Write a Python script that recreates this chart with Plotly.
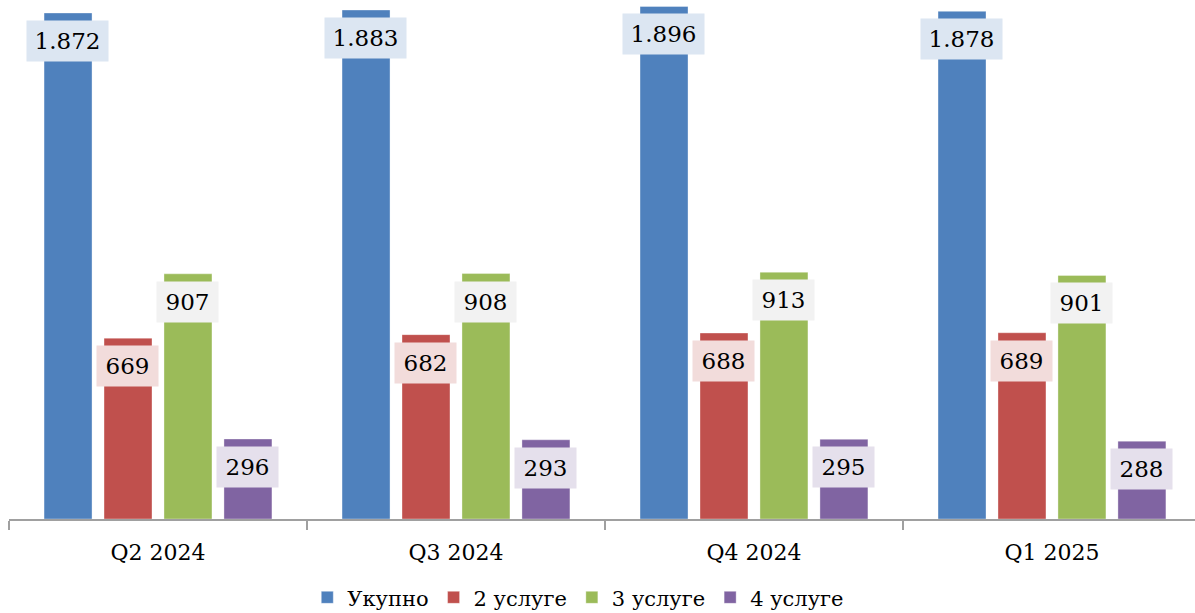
import plotly.graph_objects as go

categories = ["Q2 2024", "Q3 2024", "Q4 2024", "Q1 2025"]
series_names = ["Укупно", "2 услуге", "3 услуге", "4 услуге"]
ukupno = [1872, 1883, 1896, 1878]
usluge2 = [669, 682, 688, 689]
usluge3 = [907, 908, 913, 901]
usluge4 = [296, 293, 295, 288]

colors = ["#4f81bd", "#c0504d", "#9bbb59", "#8064a2"]
label_bg = ["#dce6f2", "#f2dcdb", "#f2f2f2", "#e5e0ec"]

FONT = "DejaVu Serif"

def fmt(v):
    return f"{v:,}".replace(",", ".")

fig = go.Figure()
all_series = [ukupno, usluge2, usluge3, usluge4]
for name, vals, col in zip(series_names, all_series, colors):
    fig.add_trace(go.Bar(
        name=name, x=categories, y=vals,
        marker=dict(color=col, line=dict(color="rgba(255,255,255,0.35)", width=1)),
        offsetgroup=name,
    ))

n = len(all_series)
for si, (vals, bg) in enumerate(zip(all_series, label_bg)):
    for ci, v in enumerate(vals):
        txt = fmt(v)
        w = 81 if len(txt) > 3 else 61
        fig.add_annotation(
            x=categories[ci], y=v, xref="x", yref="y",
            xshift=(si - (n - 1) / 2) * 60,
            yshift=-28,
            text=txt, showarrow=False,
            font=dict(family=FONT, size=23, color="#000000"),
            bgcolor=bg, borderpad=0, width=w, height=40,
            xanchor="center", yanchor="middle",
        )

fig.update_layout(
    width=1195, height=613,
    margin=dict(l=9, r=0, t=0, b=94, autoexpand=False),
    paper_bgcolor="white", plot_bgcolor="white",
    barmode="group", bargap=0.195, bargroupgap=0.2,
    font=dict(family=FONT, size=20, color="#000000"),
    showlegend=True,
    legend=dict(
        orientation="h", x=0.48, xanchor="center",
        yref="container", y=0.025, yanchor="middle",
        font=dict(family=FONT, size=21, color="#000000"),
        itemwidth=30, tracegroupgap=0,
    ),
)
fig.update_xaxes(
    type="category", range=[-0.5, 3.48],
    showline=True, linecolor="#a0a0a0", linewidth=2,
    ticks="outside", tickson="boundaries", ticklen=9, tickcolor="#a0a0a0", tickwidth=2,
    tickfont=dict(family=FONT, size=22, color="#000000"),
    ticklabelstandoff=13,
    showgrid=False, zeroline=False,
)
fig.update_yaxes(
    range=[0, 1920], visible=False, showgrid=False, zeroline=False,
)

fig.write_html("out.html", config={"displayModeBar": False},
               post_script="document.body.style.margin='0';document.body.style.padding='0';")
